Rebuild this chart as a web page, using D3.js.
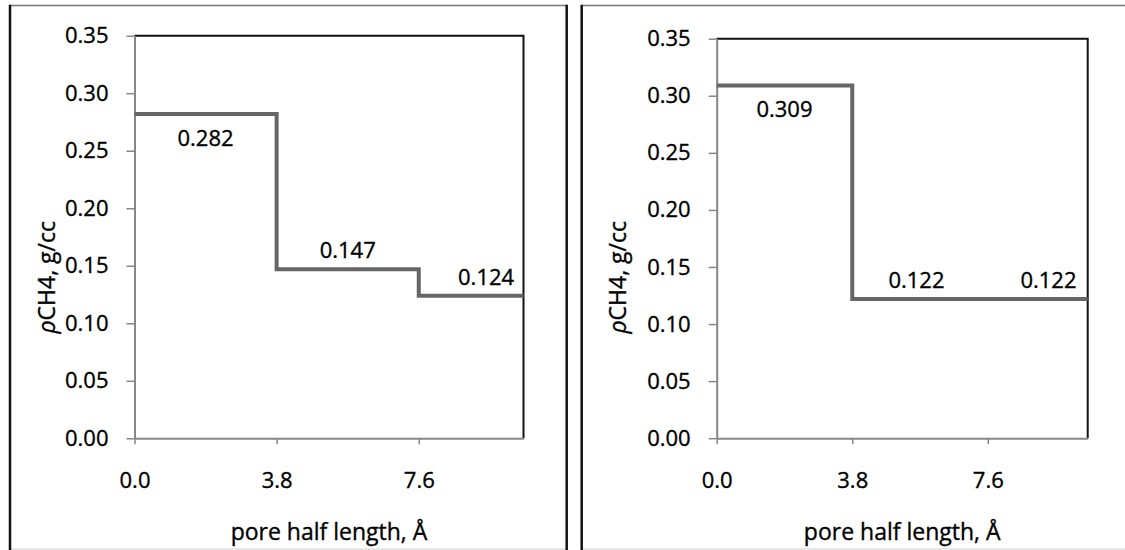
<!DOCTYPE html>
<html>
<head>
<meta charset="utf-8">
<script src="https://cdn.jsdelivr.net/npm/d3@7"></script>
<style>
  html, body { margin: 0; padding: 0; background: #fff; }
  svg { display: block; }
  text { font-family: "Open Sans", sans-serif; fill: #000; stroke: #000; stroke-width: 0.35px; }
</style>
</head>
<body>
<svg id="chart" width="1125" height="550"></svg>
<script>
// Methane density along the pore half length, two pore cases.
const xTickValues = [0, 3.8, 7.6];
const yTickValues = [0, 0.05, 0.10, 0.15, 0.20, 0.25, 0.30, 0.35];
const xDomain = [0, 10.4];
const yDomain = [0, 0.35];

// Step boundaries (Å) shared by both panels
const stepEdges = [0, 3.8, 7.6, 10.4];

// Panel A densities (g/cc) per segment
const densityA = [0.282, 0.147, 0.124];
const labelXA = [1.9, 5.7, 9.4];
const labelSideA = ["below", "above", "above"];

// Panel B densities (g/cc) per segment
const densityB = [0.309, 0.122, 0.122];
const labelXB = [1.9, 5.6, 9.3];
const labelSideB = ["below", "above", "above"];

const xTitle = "pore half length, Å";
const FONT = "Open Sans";

const panels = [
  { values: densityA, labelX: labelXA, side: labelSideA,
    frame: { x0: 10, x1: 566.7, rightEdge: true },
    plot: { left: 134.5, right: 523.5, top: 35.7, bottom: 438.3 } },
  { values: densityB, labelX: labelXB, side: labelSideB,
    frame: { x0: 581.7, x1: 1126, rightEdge: false },
    plot: { left: 716.7, right: 1087.7, top: 38.7, bottom: 438.2 } }
];

const svg = d3.select("#chart");
const frameTop = 5.5, frameBottom = 549;

panels.forEach(p => {
  const g = svg.append("g");
  const f = p.frame, b = p.plot;

  // Panel frame
  g.append("line").attr("x1", f.x0).attr("x2", f.x1).attr("y1", frameTop).attr("y2", frameTop)
    .attr("stroke", "#777").attr("stroke-width", 1.5);
  g.append("line").attr("x1", f.x0).attr("x2", f.x1).attr("y1", frameBottom).attr("y2", frameBottom)
    .attr("stroke", "#d0d0d0").attr("stroke-width", 1);
  g.append("line").attr("x1", f.x0).attr("x2", f.x0).attr("y1", frameTop - 0.75).attr("y2", 551)
    .attr("stroke", "#111").attr("stroke-width", 2.5);
  if (f.rightEdge) {
    g.append("line").attr("x1", f.x1).attr("x2", f.x1).attr("y1", frameTop - 0.75).attr("y2", 551)
      .attr("stroke", "#111").attr("stroke-width", 2.5);
  }

  const x = d3.scaleLinear().domain(xDomain).range([b.left, b.right]);
  const y = d3.scaleLinear().domain(yDomain).range([b.bottom, b.top]);

  // Plot border on top and right
  g.append("path")
    .attr("d", `M${x(xDomain[0])},${y(yDomain[1])}H${x(xDomain[1])}V${y(yDomain[0])}`)
    .attr("fill", "none").attr("stroke", "#111").attr("stroke-width", 2);

  // Y axis
  const yAxis = g.append("g")
    .attr("transform", `translate(${x(0)},0)`)
    .call(d3.axisLeft(y).tickValues(yTickValues).tickFormat(d3.format(".2f"))
      .tickSize(8).tickSizeOuter(0).tickPadding(18));
  // X axis
  const xAxis = g.append("g")
    .attr("transform", `translate(0,${y(0)})`)
    .call(d3.axisBottom(x).tickValues(xTickValues).tickFormat(d3.format(".1f"))
      .tickSize(6).tickSizeOuter(0).tickPadding(28));

  [yAxis, xAxis].forEach(ax => {
    ax.attr("font-family", FONT).attr("font-size", 22);
    ax.select(".domain").attr("stroke", "#878787").attr("stroke-width", 2);
    ax.selectAll(".tick line").attr("stroke", "#878787").attr("stroke-width", 1.5);
    ax.selectAll(".tick text").attr("fill", "#000");
  });

  // Density step line
  const pts = stepEdges.map((e, i) => [e, p.values[Math.min(i, p.values.length - 1)]]);
  const line = d3.line().x(d => x(d[0])).y(d => y(d[1])).curve(d3.curveStepAfter);
  g.append("path").datum(pts)
    .attr("d", line)
    .attr("fill", "none").attr("stroke", "#666").attr("stroke-width", 4);

  // Value labels
  g.selectAll("text.val").data(p.values).join("text")
    .attr("class", "val")
    .attr("x", (d, i) => x(p.labelX[i]))
    .attr("y", (d, i) => p.side[i] === "below" ? y(d) + 32 : y(d) - 11)
    .attr("text-anchor", "middle")
    .attr("font-size", 22)
    .text(d => d3.format(".3f")(d));

  // Axis titles
  g.append("text")
    .attr("x", (b.left + b.right) / 2).attr("y", 540)
    .attr("text-anchor", "middle").attr("font-size", 23)
    .text(xTitle);

  const yt = g.append("text")
    .attr("transform", `translate(${f.x0 + 44.5},${(frameTop + frameBottom) / 2}) rotate(-90)`)
    .attr("text-anchor", "middle").attr("font-size", 23);
  yt.append("tspan").attr("font-style", "italic").text("ρ");
  yt.append("tspan").text("CH4, g/cc");
});
</script>
</body>
</html>
